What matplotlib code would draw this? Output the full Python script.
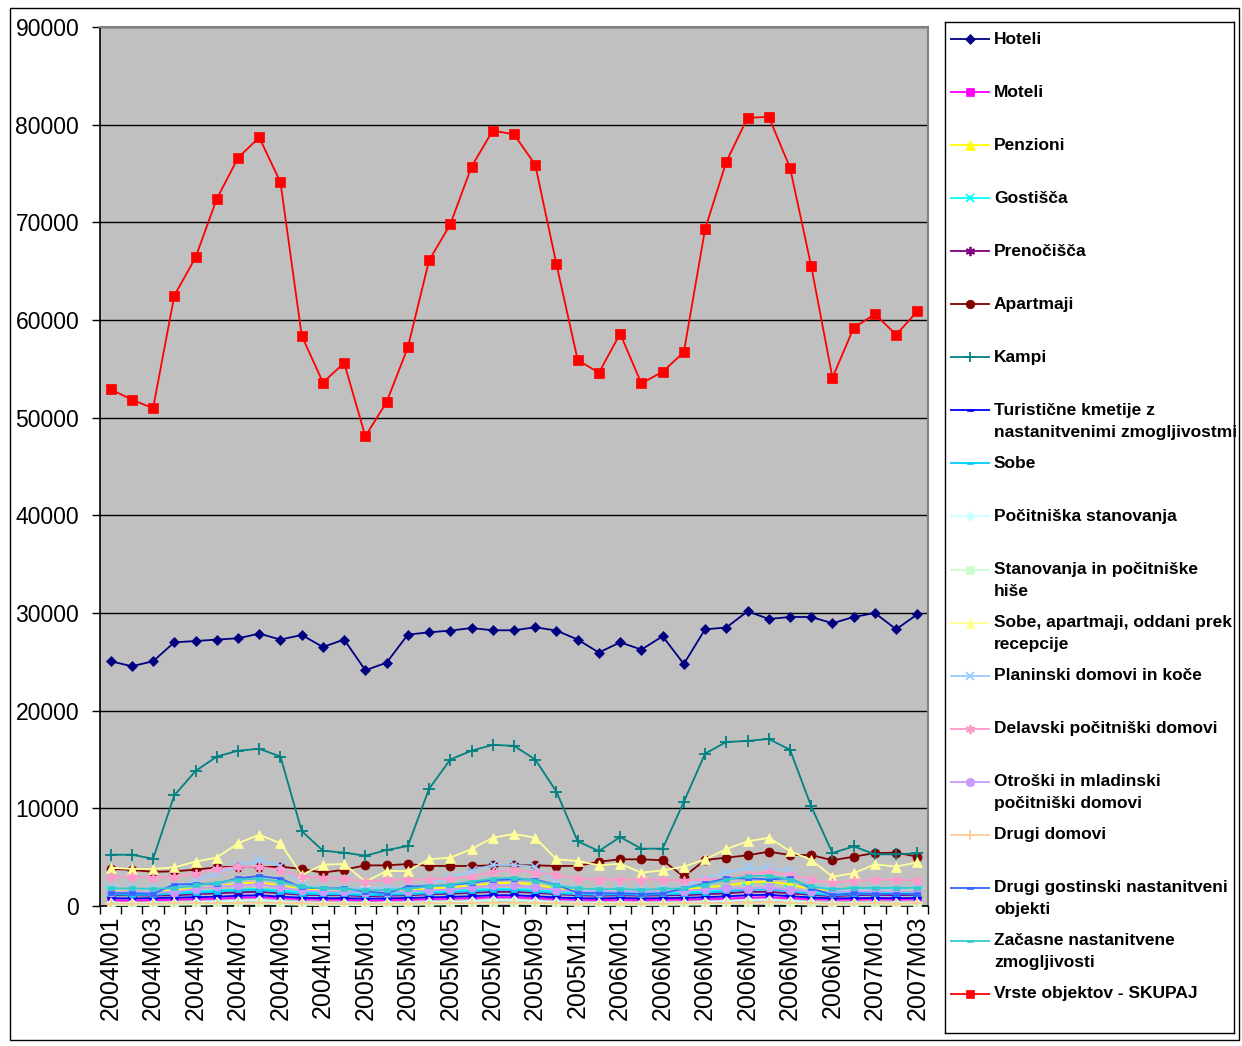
import matplotlib
matplotlib.use("Agg")
import matplotlib.pyplot as plt
from matplotlib.patches import Rectangle
from matplotlib.markers import MarkerStyle
from matplotlib.path import Path

months = ['2004M01','2004M02','2004M03','2004M04','2004M05','2004M06','2004M07','2004M08','2004M09','2004M10','2004M11','2004M12',
          '2005M01','2005M02','2005M03','2005M04','2005M05','2005M06','2005M07','2005M08','2005M09','2005M10','2005M11','2005M12',
          '2006M01','2006M02','2006M03','2006M04','2006M05','2006M06','2006M07','2006M08','2006M09','2006M10','2006M11','2006M12',
          '2007M01','2007M02','2007M03']

hoteli = [25060,24550,25060,27000,27130,27280,27410,27890,27280,27750,26520,27280,24130,24920,27790,28020,28200,28460,28230,28230,28540,28200,27280,25950,27000,26250,27620,24780,28330,28510,30170,29390,29590,29590,28950,29590,30000,28330,29870]
moteli = [600,550,600,650,700,750,850,900,800,700,650,650,550,600,650,700,750,800,900,900,800,700,650,600,650,600,650,650,700,750,850,900,800,700,650,650,700,650,700]
penzioni = [1500,1500,1450,1600,1800,2000,2300,2400,2100,1700,1600,1600,1500,1500,1600,1800,1900,2100,2300,2400,2200,1800,1600,1500,1600,1500,1600,1700,1900,2100,2400,2500,2200,1700,1500,1600,1700,1600,1700]
gostisca = [1400,1350,1350,1450,1500,1600,1700,1750,1600,1450,1400,1400,1300,1350,1400,1500,1550,1650,1750,1750,1650,1500,1400,1350,1400,1350,1400,1450,1500,1650,1800,1800,1650,1450,1300,1400,1450,1400,1450]
prenocisca = [1100,1100,1050,1100,1200,1300,1400,1450,1300,1150,1100,1100,1000,1050,1100,1200,1250,1350,1450,1450,1350,1200,1100,1050,1100,1050,1100,1100,1200,1300,1450,1450,1300,1150,1000,1100,1150,1100,1150]
apartmaji = [3800,3700,3500,3550,3720,3960,4030,3960,4030,3790,3410,3720,4160,4160,4300,4100,4100,4100,4160,4160,4160,4100,4100,4540,4780,4780,4680,3000,4710,4950,5190,5560,5220,5220,4680,5050,5420,5460,5050]
kampi = [5250,5250,4840,11330,13820,15300,15900,16100,15300,7680,5660,5460,5150,5730,6140,12000,15000,15900,16500,16400,15000,11700,6620,5630,7060,5870,5870,10680,15600,16800,16900,17100,16000,10200,5420,6110,5290,5290,5390]
tur_kmetije = [800,780,800,850,900,950,1050,1100,950,850,800,800,750,780,820,880,930,1000,1100,1100,1000,870,800,780,820,780,800,830,900,980,1100,1150,1000,870,780,800,820,800,830]
sobe = [1200,1150,1150,1250,1350,1450,1600,1650,1450,1250,1200,1200,1100,1150,1200,1300,1400,1500,1650,1650,1500,1300,1200,1150,1200,1150,1200,1250,1350,1500,1650,1700,1500,1250,1100,1200,1250,1200,1250]
pocit_stan = [300,300,300,350,400,450,550,600,450,350,300,300,280,300,320,380,420,500,600,600,500,380,320,300,320,300,320,350,420,500,600,650,500,380,300,320,340,320,350]
stanovanja = [100,100,100,120,150,180,250,280,180,120,100,100,90,100,110,140,170,220,280,290,220,140,110,100,110,100,110,120,160,220,290,300,220,140,100,110,120,110,120]
sobe_apt = [3920,3790,3790,3960,4540,4950,6420,7300,6420,3170,4230,4300,2490,3580,3580,4780,4950,5830,6990,7370,6990,4780,4610,4160,4330,3410,3650,4030,4780,5830,6620,6990,5630,4710,3000,3350,4270,4030,4470]
planinski = [1800,1800,1700,1900,2600,3400,4100,4700,4100,2200,1800,1700,1900,1800,1900,2200,2900,3600,4200,4200,4000,2300,1700,1600,1700,1600,1700,1900,2800,3400,3960,3860,3580,2300,1600,1700,1700,1700,1800]
delavski = [3000,3000,2900,3000,3300,3800,4000,4000,3700,3000,2900,2800,2500,2700,2700,2700,2800,3000,3500,3700,3400,3200,2800,2700,2700,2700,2700,2600,2700,2800,3200,3500,3200,2700,2400,2600,2700,2700,2600]
otroski = [1430,1500,1430,1430,1770,2000,2100,2250,1900,1600,1500,1500,1400,1450,1500,1600,1700,1900,2100,2100,1900,1600,1500,1450,1500,1450,1500,1550,1700,1800,1770,1900,1600,1550,1450,1500,1500,1500,1500]
drugi_domovi = [250,250,240,260,280,300,330,350,300,260,250,250,230,240,250,270,290,320,350,350,320,270,250,240,250,240,250,260,280,310,350,360,320,270,240,250,260,250,260]
drugi_gost = [1300,1300,1250,2200,2250,2300,2830,3070,2800,1910,1810,1810,1470,1300,1980,2050,2150,2390,2660,2730,2700,2150,1360,1300,1300,1230,1300,1810,2320,2830,2830,2730,2830,1810,1130,1300,1230,1230,1230]
zacasne = [1800,1800,1750,1850,2100,2400,2700,2800,2500,2000,1800,1750,1600,1650,1750,2000,2200,2500,2800,2900,2600,2100,1800,1700,1750,1650,1750,1800,2200,2700,3050,3100,2700,2000,1700,1850,1850,1850,1850]
skupaj = [52900,51850,50960,62500,66400,72400,76600,78700,74100,58400,53600,55600,48100,51600,57200,66100,69800,75700,79400,79000,75900,65700,55900,54600,58600,53500,54700,56700,69300,76200,80700,80800,75600,65500,54100,59200,60600,58500,60900]

labels = ['Hoteli', 'Moteli', 'Penzioni', 'Gostišča', 'Prenočišča', 'Apartmaji', 'Kampi',
          'Turistične kmetije z\nnastanitvenimi zmogljivostmi', 'Sobe', 'Počitniška stanovanja',
          'Stanovanja in počitniške\nhiše', 'Sobe, apartmaji, oddani prek\nrecepcije',
          'Planinski domovi in koče', 'Delavski počitniški domovi',
          'Otroški in mladinski\npočitniški domovi', 'Drugi domovi',
          'Drugi gostinski nastanitveni\nobjekti', 'Začasne nastanitvene\nzmogljivosti',
          'Vrste objektov - SKUPAJ']
series = [hoteli, moteli, penzioni, gostisca, prenocisca, apartmaji, kampi, tur_kmetije, sobe,
          pocit_stan, stanovanja, sobe_apt, planinski, delavski, otroski, drugi_domovi,
          drugi_gost, zacasne, skupaj]
colors = ['#000080', '#FF00FF', '#FFFF00', '#00FFFF', '#800080', '#800000', '#008080', '#0000FF',
          '#00CCFF', '#CCFFFF', '#CCFFCC', '#FFFF99', '#99CCFF', '#FF99CC', '#CC99FF', '#FFCC99',
          '#3366FF', '#33CCCC', '#FF0000']
for s in series:
    assert len(s) == len(months)

dash = MarkerStyle(Path([(-1, -0.45), (1, -0.45), (1, 0.45), (-1, 0.45), (-1, -0.45)], closed=True))
aster = (6, 2, 0)
markers = ['D', 's', '^', 'x', aster, 'o', '+', dash, dash, 'D', 's', '^', 'x', aster, 'o', '+',
           dash, dash, 's']
msizes = [5.5, 5.5, 7, 6.5, 7, 6.5, 8, 5, 5, 5.5, 5.5, 7, 6.5, 7, 6.5, 8, 5, 5, 6.5]

plt.rcParams['font.family'] = ['Liberation Sans', 'DejaVu Sans']

W, H = 1242, 1046
fig = plt.figure(figsize=(W / 100, H / 100), dpi=100)
fig.patches.append(Rectangle((10 / W, 1 - 1040 / H), 1229 / W, 1032 / H, transform=fig.transFigure,
                             fill=False, edgecolor='black', lw=1))

L, R, T, B = 100, 928, 27, 906
ax = fig.add_axes([L / W, 1 - B / H, (R - L) / W, (B - T) / H])
ax.set_facecolor('#C0C0C0')
x = list(range(len(months)))
for s, c, m, ms in zip(series, colors, markers, msizes):
    filled = m not in ('x', '+', aster)
    ax.plot(x, s, color=c, lw=1.3, marker=m, markersize=ms,
            markerfacecolor=c, markeredgecolor=c, markeredgewidth=1.3 if not filled else 0.5,
            zorder=3)

ax.set_xlim(-0.5, len(months) - 0.5)
ax.set_ylim(0, 90000)
ax.set_yticks(range(0, 90001, 10000))
ax.set_yticklabels([str(v) for v in range(0, 90001, 10000)], fontsize=16.5)
ax.yaxis.grid(True, color='black', lw=1, zorder=1)
ax.set_axisbelow(True)
ax.set_xticks([i - 0.5 for i in range(len(months) + 1)])
ax.set_xticklabels([])
ax.set_xticks(x[::2], months[::2], minor=True, rotation=90, fontsize=18)
ax.tick_params(axis='x', which='minor', length=0, pad=7)
ax.tick_params(axis='x', which='major', length=6, width=1, direction='out')
ax.tick_params(axis='y', length=6, width=1, direction='out', pad=9)
for sp in ('top', 'right'):
    ax.spines[sp].set_color('#808080')
    ax.spines[sp].set_linewidth(1.5)
for sp in ('left', 'bottom'):
    ax.spines[sp].set_color('black')
    ax.spines[sp].set_linewidth(1.2)

# legend box
LL, LR, LT, LB = 945, 1234, 22, 1033
lax = fig.add_axes([LL / W, 1 - LB / H, (LR - LL) / W, (LB - LT) / H])
lax.set_xlim(0, LR - LL)
lax.set_ylim(LB - LT, 0)
lax.set_xticks([])
lax.set_yticks([])
for sp in lax.spines.values():
    sp.set_color('black')
    sp.set_linewidth(1)
for i, (lab, c, m, ms) in enumerate(zip(labels, colors, markers, msizes)):
    yc = 39 + 53.05 * i - LT
    filled = m not in ('x', '+', aster)
    lax.plot([5, 45], [yc, yc], color=c, lw=1.3, solid_capstyle='butt')
    lax.plot([25], [yc], color=c, marker=m, markersize=ms * 0.95, markerfacecolor=c,
             markeredgecolor=c, markeredgewidth=1.3 if not filled else 0.5)
    for j, line in enumerate(lab.split('\n')):
        lax.text(49, yc + 22 * j, line, fontsize=12.5, fontweight='bold', va='center', ha='left')

fig.savefig('out.png', dpi=100)
